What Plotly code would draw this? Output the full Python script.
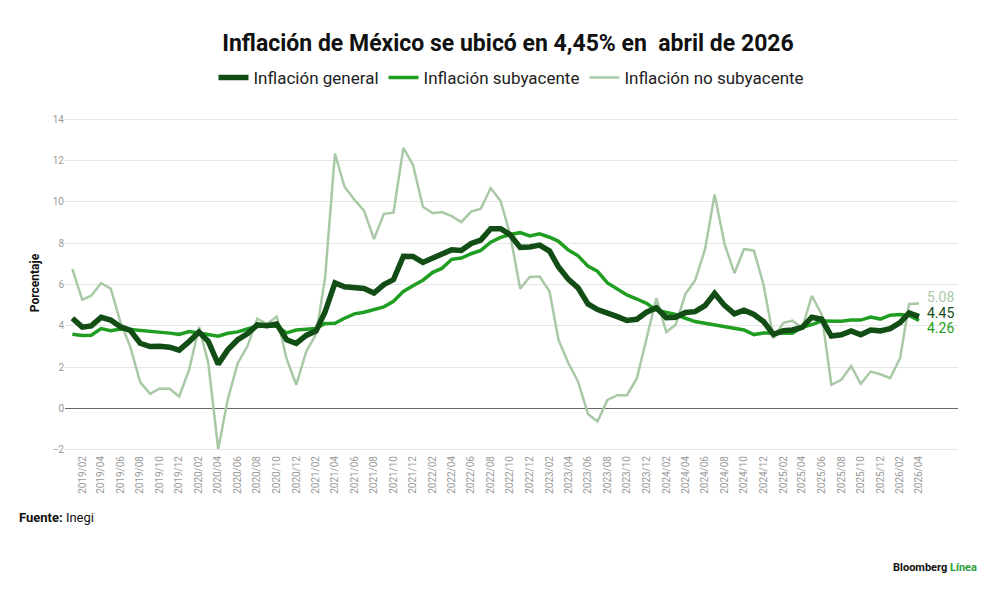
import pandas as pd
import plotly.graph_objects as go

# monthly series, 2019/01 .. 2026/04
months = pd.date_range("2019-01-01", "2026-04-01", freq="MS")
tick_months = months[1::2]  # 2019/02, 2019/04, ... 2026/04

general = [
    4.37, 3.94, 4.00, 4.41, 4.28, 3.95, 3.78, 3.16, 3.00, 3.02, 2.97, 2.83,
    3.24, 3.70, 3.25, 2.15, 2.84, 3.33, 3.62, 4.05, 4.01, 4.09, 3.33, 3.15,
    3.54, 3.76, 4.67, 6.08, 5.89, 5.88, 5.81, 5.59, 6.00, 6.24, 7.37, 7.36,
    7.07, 7.28, 7.45, 7.68, 7.65, 7.99, 8.15, 8.70, 8.70, 8.41, 7.80, 7.82,
    7.91, 7.62, 6.85, 6.25, 5.84, 5.06, 4.79, 4.64, 4.45, 4.26, 4.32, 4.66,
    4.88, 4.40, 4.42, 4.65, 4.69, 4.98, 5.57, 4.99, 4.58, 4.76, 4.55, 4.21,
    3.59, 3.77, 3.80, 3.93, 4.42, 4.32, 3.51, 3.57, 3.76, 3.57, 3.80, 3.76,
    3.87, 4.16, 4.63, 4.45,
]

subyacente = [
    3.60, 3.54, 3.55, 3.87, 3.77, 3.85, 3.82, 3.78, 3.75, 3.68, 3.65, 3.59,
    3.73, 3.66, 3.60, 3.50, 3.64, 3.71, 3.85, 3.97, 3.99, 3.98, 3.66, 3.80,
    3.84, 3.87, 4.12, 4.13, 4.37, 4.58, 4.66, 4.78, 4.92, 5.19, 5.67, 5.94,
    6.21, 6.59, 6.78, 7.22, 7.28, 7.49, 7.65, 8.05, 8.28, 8.42, 8.51, 8.35,
    8.45, 8.29, 8.09, 7.67, 7.39, 6.89, 6.64, 6.08, 5.76, 5.50, 5.30, 5.09,
    4.76, 4.64, 4.55, 4.37, 4.21, 4.13, 4.05, 4.00, 3.91, 3.80, 3.58, 3.65,
    3.66, 3.65, 3.64, 3.93, 4.06, 4.24, 4.23, 4.23, 4.28, 4.28, 4.43, 4.33,
    4.52, 4.55, 4.50, 4.26,
]

no_subyacente = [
    6.76, 5.26, 5.46, 6.07, 5.80, 4.15, 3.00, 1.28, 0.71, 0.97, 0.96, 0.59,
    1.87, 3.95, 2.20, -1.96, 0.45, 2.20, 3.00, 4.35, 4.10, 4.45, 2.40, 1.15,
    2.75, 3.60, 6.30, 12.34, 10.73, 10.10, 9.58, 8.20, 9.42, 9.48, 12.61, 11.79,
    9.76, 9.45, 9.51, 9.31, 9.02, 9.53, 9.67, 10.67, 10.04, 8.40, 5.80, 6.37,
    6.39, 5.66, 3.32, 2.19, 1.31, -0.26, -0.63, 0.42, 0.65, 0.65, 1.47, 3.32,
    5.35, 3.70, 4.05, 5.55, 6.20, 7.70, 10.36, 7.97, 6.55, 7.72, 7.64, 5.99,
    3.40, 4.15, 4.25, 3.90, 5.45, 4.55, 1.15, 1.39, 2.05, 1.20, 1.79, 1.66,
    1.47, 2.44, 5.06, 5.08,
]

DARK = "#114d14"
MID = "#1f9e22"
LIGHT = "#a9c9a6"

# the page body adds an 8px margin, so everything is laid out 8px up/left
OFF = 8
H = 595

fig = go.Figure()

# drawn light -> mid -> dark so the headline sits on top
fig.add_trace(go.Scatter(x=months, y=no_subyacente, mode="lines", name="Inflación no subyacente",
                         line=dict(color=LIGHT, width=2.5)))
fig.add_trace(go.Scatter(x=months, y=subyacente, mode="lines", name="Inflación subyacente",
                         line=dict(color=MID, width=3.5)))
fig.add_trace(go.Scatter(x=months, y=general, mode="lines", name="Inflación general",
                         line=dict(color=DARK, width=5.5)))

# end-of-line value labels
for vals, col, shift in [(no_subyacente, LIGHT, 7), (general, DARK, 4), (subyacente, MID, -7)]:
    fig.add_annotation(x=months[-1], y=vals[-1], text=f"{vals[-1]:.2f}", showarrow=False,
                       xanchor="left", xshift=6, yshift=shift,
                       font=dict(size=14, color=col, family="Roboto"))

fig.add_annotation(xref="paper", yref="paper", x=-0.054, y=-0.191, xanchor="left", yanchor="middle",
                   text="<b>Fuente:</b> Inegi", showarrow=False,
                   font=dict(size=13, color="#111", family="Roboto"))
fig.add_annotation(xref="paper", yref="paper", x=1.023, y=-0.338, xanchor="right", yanchor="middle",
                   text="<b>Bloomberg <span style='color:#2e9e3a'>Línea</span></b>", showarrow=False,
                   font=dict(size=11, color="#111", family="Roboto"))

fig.update_layout(
    width=1000, height=H,
    paper_bgcolor="white", plot_bgcolor="white",
    margin=dict(l=65 - OFF, r=42 + OFF, t=113 - OFF, b=142 + OFF),
    font=dict(family="Roboto", color="#222"),
    title=dict(text="<b>Inflación de México se ubicó en 4,45% en  abril de 2026</b>",
               x=0.5, xanchor="center", y=1 - (43 - OFF) / H, yanchor="middle",
               font=dict(size=23, color="#111", family="Roboto")),
    legend=dict(orientation="h", x=0.5, xanchor="center", yref="container",
                y=1 - (78 - OFF) / H, yanchor="middle", traceorder="reversed",
                font=dict(size=17, color="#222", family="Roboto"), itemwidth=30),
    showlegend=True,
    xaxis=dict(range=["2018-12-09", "2026-08-01"], tickvals=tick_months,
               tickformat="%Y/%m", tickangle=-90, showgrid=False, zeroline=False,
               showline=False, ticks="", tickfont=dict(size=10, color="#999")),
    yaxis=dict(range=[-2.15, 14.3], dtick=2, showgrid=True, gridcolor="#e6e6e6",
               zeroline=True, zerolinecolor="#666", zerolinewidth=1, ticks="",
               tickfont=dict(size=10, color="#999"),
               title=dict(text="<b>Porcentaje</b>", standoff=10,
                          font=dict(size=12, color="#111"))),
)

fig.write_html("out.html")
